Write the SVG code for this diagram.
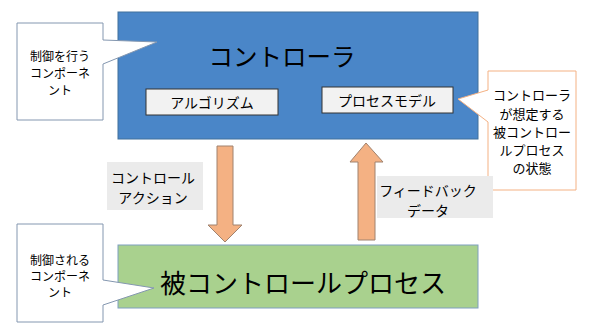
<svg xmlns="http://www.w3.org/2000/svg" width="590" height="335" viewBox="0 0 590 335">
<style>
text{font-family:"Noto Sans CJK JP","Noto Sans",sans-serif;fill:#000;text-anchor:middle;dominant-baseline:central}
.callout{fill:#fff;stroke:#8497b0;stroke-width:1}
.callout2{fill:#fff;stroke:#f4b183;stroke-width:1}
.inner{fill:#f2f2f2;stroke:#333;stroke-width:1}
.lbl{fill:#ebebeb;stroke:none}
.arrow{fill:#f4b183;stroke:#a0826e;stroke-width:1}
.s12{font-size:12px}
.s13{font-size:13px}
.s14{font-size:14px}
</style>
<rect width="590" height="335" fill="#fff"/>
<g id="controller">
<rect x="118" y="12" width="360" height="127" fill="#4a86c8" stroke="#41719c" stroke-width="1"/>
<text x="282" y="55" style="font-size:24.5px">コントローラ</text>
</g>
<g id="algorithm">
<rect class="inner" x="146" y="89" width="132" height="26"/>
<text class="s14" x="212" y="102">アルゴリズム</text>
</g>
<g id="process-model">
<rect class="inner" x="322" y="87" width="131" height="26"/>
<text class="s14" x="387" y="100">プロセスモデル</text>
</g>
<g id="controlled-process">
<rect x="118" y="245" width="360" height="63" fill="#a9d18e" stroke="#7f9fbf" stroke-width="1"/>
<text x="303" y="281" style="font-size:26px">被コントロールプロセス</text>
</g>
<g id="callout-controller">
<path class="callout" d="M17,23 H103 V40 L157,42 L103,64 V120 H17 Z"/>
<text class="s12" x="60" y="55">制御を行う</text>
<text class="s12" x="60" y="72">コンポーネ</text>
<text class="s12" x="60" y="89">ント</text>
</g>
<g id="callout-process">
<path class="callout" d="M17,224 H103 V280 L154,288 L103,305 V322 H17 Z"/>
<text class="s12" x="60" y="259">制御される</text>
<text class="s12" x="60" y="275">コンポーネ</text>
<text class="s12" x="60" y="291">ント</text>
</g>
<g id="callout-model">
<path class="callout2" d="M488,71 H576 V190 H488 V122 L458,99 L488,90 Z"/>
<text class="s13" x="532" y="94">コントローラ</text>
<text class="s13" x="532" y="113">が想定する</text>
<text class="s13" x="532" y="131">被コントロー</text>
<text class="s13" x="532" y="149">ルプロセス</text>
<text class="s13" x="532" y="167">の状態</text>
</g>
<g id="connectors">
<path class="arrow" d="M217,146 H233 V225 H242 L225,242 L208,225 H217 Z"/>
<path class="arrow" d="M358,240 V162 H350 L366,143 L383,162 H375 V240 Z"/>
</g>
<g id="label-control-action">
<rect class="lbl" x="107" y="162" width="96" height="48"/>
<text class="s14" x="153" y="177">コントロール</text>
<text class="s14" x="153" y="197">アクション</text>
</g>
<g id="label-feedback">
<rect class="lbl" x="377" y="176" width="116" height="42"/>
<text class="s14" x="428" y="190">フィードバック</text>
<text class="s14" x="428" y="210">データ</text>
</g>
</svg>
